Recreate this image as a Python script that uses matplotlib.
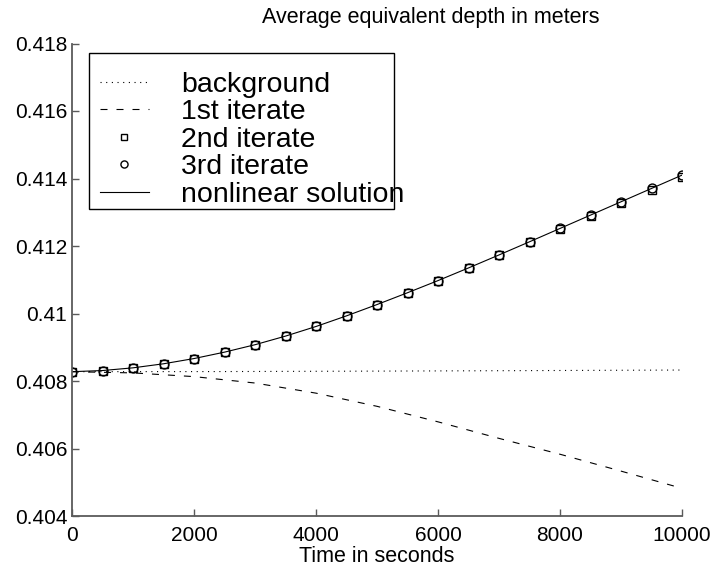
import numpy as np
import matplotlib
matplotlib.use("Agg")
import matplotlib.pyplot as plt
from matplotlib.patches import Rectangle

plt.rcParams['font.family'] = ['Liberation Sans', 'DejaVu Sans']

# time axis (seconds)
t_marks = [0, 500, 1000, 1500, 2000, 2500, 3000, 3500, 4000, 4500, 5000,
           5500, 6000, 6500, 7000, 7500, 8000, 8500, 9000, 9500, 10000]
t_coarse = [0, 1000, 2000, 3000, 4000, 5000, 6000, 7000, 8000, 9000, 10000]
t_bg = [0, 2500, 5000, 7500, 10000]

# average equivalent depth (m)
background = [0.408276, 0.408280, 0.408293, 0.408308, 0.408325]
iterate1 = [0.408276, 0.408240, 0.408130, 0.407940, 0.407640, 0.407250,
            0.406790, 0.406300, 0.405830, 0.405330, 0.404820]
iterate2 = [0.408276, 0.408310, 0.408390, 0.408510, 0.408665, 0.408855,
            0.409075, 0.409330, 0.409615, 0.409930, 0.410265, 0.410615,
            0.410975, 0.411350, 0.411730, 0.412115, 0.412500, 0.412895,
            0.413280, 0.413665, 0.414050]
iterate3 = [0.408276, 0.408310, 0.408390, 0.408510, 0.408665, 0.408855,
            0.409075, 0.409330, 0.409615, 0.409930, 0.410265, 0.410615,
            0.410975, 0.411350, 0.411735, 0.412125, 0.412520, 0.412915,
            0.413310, 0.413705, 0.414100]
nonlinear = iterate3

yticks = [0.404, 0.406, 0.408, 0.410, 0.412, 0.414, 0.416, 0.418]
ytick_labels = ['0.404', '0.406', '0.408', '0.41', '0.412', '0.414', '0.416', '0.418']
xticks = [0, 2000, 4000, 6000, 8000, 10000]

W, H = 716, 572
fig = plt.figure(figsize=(W / 100, H / 100), dpi=100)
ax = fig.add_axes([72 / W, (H - 516) / H, 610 / W, 472.5 / H])

lw = 0.8
h_bg, = ax.plot(t_bg, background, color='k', lw=lw, linestyle=(0, (1, 4.1)),
                label='background')
h_1, = ax.plot(t_coarse, iterate1, color='k', lw=lw, linestyle=(0, (6.3, 8.1)),
               label='1st iterate')
h_2, = ax.plot(t_marks, iterate2, linestyle='none', marker='s', ms=5.2,
               mfc='none', mec='k', mew=1.0, label='2nd iterate')
h_3, = ax.plot(t_marks, iterate3, linestyle='none', marker='o', ms=6.4,
               mfc='none', mec='k', mew=1.0, label='3rd iterate')
h_nl, = ax.plot(t_marks, nonlinear, color='k', lw=lw, label='nonlinear solution')

ax.set_xlim(0, 10000)
ax.set_ylim(0.404, 0.418)
ax.set_xticks(xticks)
ax.set_xticklabels([str(v) for v in xticks])
ax.set_yticks(yticks)
ax.set_yticklabels(ytick_labels)

axis_grey = '#5a5a5a'
for side in ['top', 'right']:
    ax.spines[side].set_visible(False)
for side in ['left', 'bottom']:
    ax.spines[side].set_color(axis_grey)
    ax.spines[side].set_linewidth(1.3)
ax.tick_params(axis='both', direction='in', length=5, width=1, color=axis_grey,
               labelsize=15, labelcolor='k')
ax.tick_params(axis='y', pad=3.5)
ax.tick_params(axis='x', pad=7)

ax.set_xlabel('Time in seconds', fontsize=15.5, labelpad=1)
fig.text(431 / W, (H - 23.5) / H, 'Average equivalent depth in meters',
         fontsize=15.5, ha='center', va='baseline')

# legend with a plain black box
leg = ax.legend(handles=[h_bg, h_1, h_2, h_3, h_nl], loc='upper left',
                bbox_to_anchor=(100 / W, (H - 72) / H),
                bbox_transform=fig.transFigure, frameon=False, fontsize=20.5,
                borderpad=0, borderaxespad=0, handlelength=1.72,
                handletextpad=1.12, labelspacing=0.05, markerscale=0.8)
fig.patches.append(Rectangle((89 / W, (H - 209) / H), 305 / W, 156 / H,
                             transform=fig.transFigure, fill=False,
                             edgecolor='k', linewidth=1.0, zorder=5))

fig.savefig('out.png', dpi=100)
